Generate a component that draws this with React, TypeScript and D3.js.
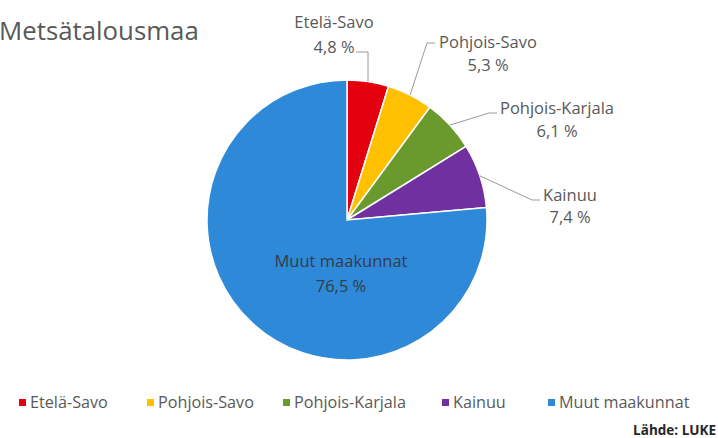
import React from "react";
import * as d3 from "d3";

const categories = ["Etelä-Savo", "Pohjois-Savo", "Pohjois-Karjala", "Kainuu", "Muut maakunnat"];
const values = [4.8, 5.3, 6.1, 7.4, 76.5];
const valueLabels = ["4,8 %", "5,3 %", "6,1 %", "7,4 %", "76,5 %"];
const colors = ["#e2000f", "#ffc000", "#6a9a2e", "#7030a0", "#2e8ad8"];
const title = "Metsätalousmaa";
const source = "Lähde: LUKE";

// layout (offsets relative to pie centre)
const W = 718, H = 438;
const CX = 347, CY = 220, R = 140;
const labelLayout = [
  { dx: -13, y1: -198, y2: -173, end: [9, -168], vertical: true },
  { dx: 141, y1: -178, y2: -155, end: [88, -177], vertical: false },
  { dx: 210, y1: -112, y2: -89, end: [150, -107], vertical: false },
  { dx: 223, y1: -25, y2: -3, end: [193, -20], vertical: false },
  { dx: -6, y1: 41, y2: 66, end: null, vertical: false },
];
const legendX = [19, 147, 283, 442, 548];
const LEGEND_Y = 402;
const FONT = "'Open Sans', Lato, sans-serif";
const FS = 16.5;

export default function App() {
  const pie = d3.pie<number>().sort(null).value((d) => d);
  const arcs = pie(values);
  const arc = d3.arc<d3.PieArcDatum<number>>().innerRadius(0).outerRadius(R);

  return (
    <svg width={W} height={H} style={{ position: "absolute", left: 0, top: 0, background: "#fff" }}>
      <text x={-1} y={40} fontFamily={FONT} fontSize={25.8} fill="#595959">{title}</text>
      <g transform={`translate(${CX},${CY})`}>
        {arcs.map((a, i) => (
          <path key={i} d={arc(a) || ""} fill={colors[i]} stroke="#fff" strokeWidth={1.5} />
        ))}
        {arcs.map((a, i) => {
          const L = labelLayout[i];
          const mid = (a.startAngle + a.endAngle) / 2;
          const sx = Math.sin(mid) * R;
          const sy = -Math.cos(mid) * R;
          let path = "";
          if (L.end) {
            const [ex, ey] = L.end;
            if (L.vertical) {
              path = `M${sx},${sy}L${sx},${ey}L${ex},${ey}`;
            } else {
              path = `M${sx},${sy}L${ex - 8},${ey}L${ex},${ey}`;
            }
          }
          const inside = !L.end;
          const fill = inside ? "#333c4a" : "#595959";
          return (
            <g key={"l" + i}>
              {path && <path d={path} fill="none" stroke="#9a9a9a" strokeWidth={1} />}
              <text x={L.dx} y={L.y1} dy="0.35em" textAnchor="middle" fontFamily={FONT} fontSize={FS} fill={fill}>{categories[i]}</text>
              <text x={L.dx} y={L.y2} dy="0.35em" textAnchor="middle" fontFamily={FONT} fontSize={FS} fill={fill}>{valueLabels[i]}</text>
            </g>
          );
        })}
      </g>
      <g>
        {categories.map((c, i) => (
          <g key={"lg" + i}>
            <rect x={legendX[i]} y={LEGEND_Y - 3} width={7} height={7} fill={colors[i]} />
            <text x={legendX[i] + 11} y={LEGEND_Y} dy="0.35em" fontFamily={FONT} fontSize={16.2} fill="#595959">{c}</text>
          </g>
        ))}
      </g>
      <text x={716} y={430} dy="0.35em" textAnchor="end" fontFamily={FONT} fontSize={13.5} fontWeight={700} fill="#262626">{source}</text>
    </svg>
  );
}
